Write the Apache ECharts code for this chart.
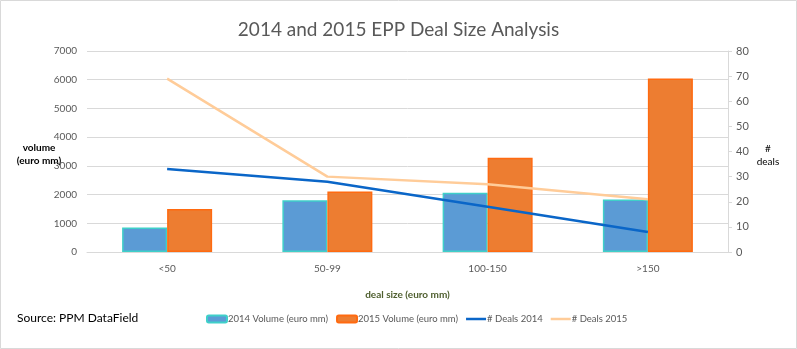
<!DOCTYPE html>
<html><head><meta charset="utf-8">
<script src="https://cdn.jsdelivr.net/npm/echarts@6/dist/echarts.min.js"></script>
<style>html,body{margin:0;padding:0;background:#fff}#c{width:797px;height:349px}</style>
</head><body><div id="c"></div>
<script>
const categories = ['<50', '50-99', '100-150', '>150'];
const volume2014 = [850, 1800, 2060, 1830];
const volume2015 = [1500, 2110, 3280, 6040];
const deals2014 = [33, 28, 18, 8];
const deals2015 = [69, 30, 27, 21];
const leftTicks = { min: 0, max: 7000, interval: 1000 };
const rightTicks = { min: 0, max: 80, interval: 10 };

const FONT = 'Lato, "Open Sans", sans-serif';
const LINE_ICON = 'path://M0,0H20V2.5H0Z';
const chart = echarts.init(document.getElementById('c'), null, { renderer: 'canvas' });
chart.setOption({
  animation: false,
  textStyle: { fontFamily: FONT },
  title: {
    text: '2014 and 2015 EPP Deal Size Analysis',
    left: 'center', top: 15,
    textStyle: { fontFamily: FONT, fontSize: 19, fontWeight: 'normal', color: '#595959' }
  },
  grid: { left: 87, right: 69, top: 51, bottom: 97 },
  legend: {
    left: 201, top: 309, itemWidth: 20, itemHeight: 7, itemGap: 8,
    textStyle: { fontFamily: FONT, fontSize: 9.5, color: '#595959', padding: [0, 0, 0, -4] },
    data: [
      { name: '2014 Volume (euro mm)' },
      { name: '2015 Volume (euro mm)' },
      { name: '# Deals 2014', icon: LINE_ICON },
      { name: '# Deals 2015', icon: LINE_ICON }
    ]
  },
  graphic: [
    { type: 'rect', shape: { x: 0.5, y: 0.5, width: 796, height: 348 }, style: { fill: 'none', stroke: '#d9d9d9', lineWidth: 1 }, silent: true },
    { type: 'text', left: 17, top: 312, style: { text: 'Source: PPM DataField', fontFamily: FONT, fontSize: 12, fill: '#000' } },
    { type: 'text', x: 39, y: 141, style: { text: 'volume\n(euro mm)', align: 'center', fontFamily: FONT, fontSize: 10, fontWeight: 'bold', fill: '#000', lineHeight: 13 } },
    { type: 'text', x: 768, y: 142, style: { text: '#\ndeals', align: 'center', fontFamily: FONT, fontSize: 10, fill: '#000', lineHeight: 13 } }
  ],
  xAxis: {
    type: 'category', data: categories,
    name: 'deal size (euro mm)', nameLocation: 'middle', nameGap: 38,
    nameTextStyle: { fontFamily: FONT, fontSize: 10, fontWeight: 'bold', color: '#4f5f2f' },
    axisLine: { lineStyle: { color: '#d9d9d9', width: 1 } },
    axisTick: { show: false },
    axisLabel: { fontFamily: FONT, fontSize: 10, color: '#595959', margin: 12 }
  },
  yAxis: [
    {
      type: 'value', min: leftTicks.min, max: leftTicks.max, interval: leftTicks.interval,
      axisLine: { show: false }, axisTick: { show: false },
      axisLabel: { fontFamily: FONT, fontSize: 10, color: '#595959', margin: 10, formatter: v => String(v) },
      splitLine: { lineStyle: { color: '#d9d9d9', width: 1 } }
    },
    {
      type: 'value', min: rightTicks.min, max: rightTicks.max, interval: rightTicks.interval,
      position: 'right',
      axisLine: { show: true, lineStyle: { color: '#d9d9d9' } },
      axisTick: { show: true, inside: false, length: 4, lineStyle: { color: '#d9d9d9' } },
      axisLabel: { fontFamily: FONT, fontSize: 11, color: '#595959', margin: 8 },
      splitLine: { show: false }
    }
  ],
  series: [
    {
      name: '2014 Volume (euro mm)', type: 'bar', data: volume2014, barWidth: 45, barGap: '0%',
      itemStyle: { color: '#5b9bd5', borderColor: '#3fd0c9', borderWidth: 1.5 }
    },
    {
      name: '2015 Volume (euro mm)', type: 'bar', data: volume2015, barWidth: 45, barGap: '0%',
      itemStyle: { color: '#ed7d31', borderColor: '#ff6a10', borderWidth: 1.5 }
    },
    {
      name: '# Deals 2014', type: 'line', yAxisIndex: 1, data: deals2014, symbol: 'none',
      lineStyle: { color: '#0a66c8', width: 2.5 }, itemStyle: { color: '#0a66c8' }, z: 5
    },
    {
      name: '# Deals 2015', type: 'line', yAxisIndex: 1, data: deals2015, symbol: 'none',
      lineStyle: { color: '#ffcc99', width: 2.5 }, itemStyle: { color: '#ffcc99' }, z: 4
    }
  ]
});
</script></body></html>
